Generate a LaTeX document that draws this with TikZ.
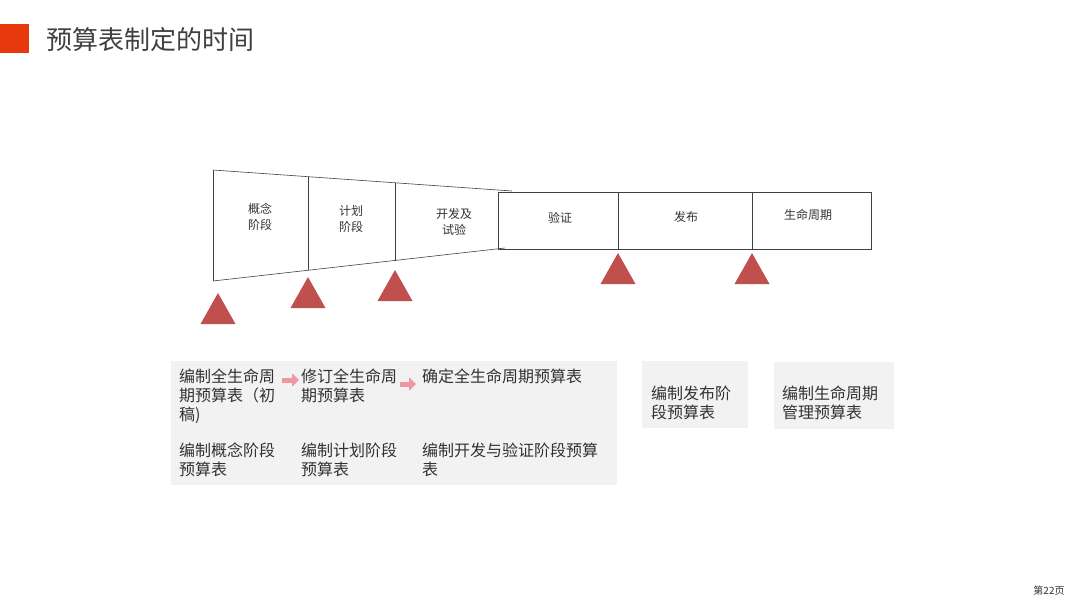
\documentclass[tikz,border=0pt]{standalone}
\usepackage{fontspec}
\setmainfont{Noto Sans CJK SC}
\usetikzlibrary{positioning,arrows.meta}

\definecolor{titlered}{RGB}{232,56,13}
\definecolor{marker}{RGB}{192,80,77}
\definecolor{panelgray}{RGB}{242,242,242}
\definecolor{flowpink}{RGB}{240,150,160}
\definecolor{textgray}{RGB}{50,50,50}

\begin{document}
\begin{tikzpicture}[
    x=1pt, y=-1pt,
    every node/.style={
        inner sep=0pt,
        text=textgray
    },
    stage/.style={align=center, font=\fontsize{12}{16}\selectfont},
    task/.style={anchor=north west, align=left, font=\fontsize{16}{19}\selectfont},
    milestone/.style={fill=marker, draw=none},
    panel/.style={fill=panelgray, draw=none},
    frame/.style={draw=black!75, line width=0.6pt},
    flow/.style={draw=flowpink, line width=5pt, -{Triangle[length=7pt,width=13pt]}}
]
\useasboundingbox (0,0) rectangle (1080,608);

% title bar
\fill[titlered] (0,24) rectangle (29,53);
\node[anchor=west, font=\fontsize{26}{30}\selectfont, text=black!75] (title) at (46,40) {预算表制定的时间};

% funnel and stage bar
\draw[frame] (213,170) -- (512,191);
\draw[frame] (213,281) -- (505,248);
\draw[frame] (213,170) -- (213,281);
\draw[frame] (308,176.7) -- (308,270.3);
\draw[frame] (395,182.8) -- (395,260.6);
\draw[frame] (498,192) rectangle (871,249);
\draw[frame] (618,192) -- (618,249);
\draw[frame] (752,192) -- (752,249);

\node[stage] (concept) at (260,217) {概念\\阶段};
\node[stage] (plan) at (351,219) {计划\\阶段};
\node[stage] (develop) at (454,222) {开发及\\试验};
\node[stage] (verify) at (560,218) {验证};
\node[stage] (launch) at (686,217) {发布};
\node[stage] (lifecycle) at (808,215) {生命周期};

% milestones
\foreach \x/\y in {218/293, 308/277, 395/270, 618/253, 752/253}
    \fill[milestone] (\x,\y) -- ++(17.5,31) -- ++(-35,0) -- cycle;

% budget panels
\fill[panel] (171,361) rectangle (617,485);
\fill[panel] (642,361) rectangle (748,428);
\fill[panel] (774,362) rectangle (894,429);

\node[task] (draft) at (179,369) {编制全生命周\\期预算表（初\\稿)};
\node[task] (revise) at (301,369) {修订全生命周\\期预算表};
\node[task] (confirm) at (422,369) {确定全生命周期预算表};
\node[task] (conceptbudget) at (179,443) {编制概念阶段\\预算表};
\node[task] (planbudget) at (301,443) {编制计划阶段\\预算表};
\node[task] (devbudget) at (422,443) {编制开发与验证阶段预算\\表};
\node[task] (launchbudget) at (651,386) {编制发布阶\\段预算表};
\node[task] (lifebudget) at (782,386) {编制生命周期\\管理预算表};

\draw[flow] ([xshift=7pt,yshift=-11pt]draft.north east) -- ([xshift=-2pt,yshift=-11pt]revise.north west);
\draw[flow] ([xshift=3pt,yshift=-15pt]revise.north east) -- ([xshift=-6pt,yshift=-15pt]confirm.north west);

% page number
\node[font=\fontsize{10}{12}\selectfont] (page) at (1049,591) {第22页};

\end{tikzpicture}
\end{document}
